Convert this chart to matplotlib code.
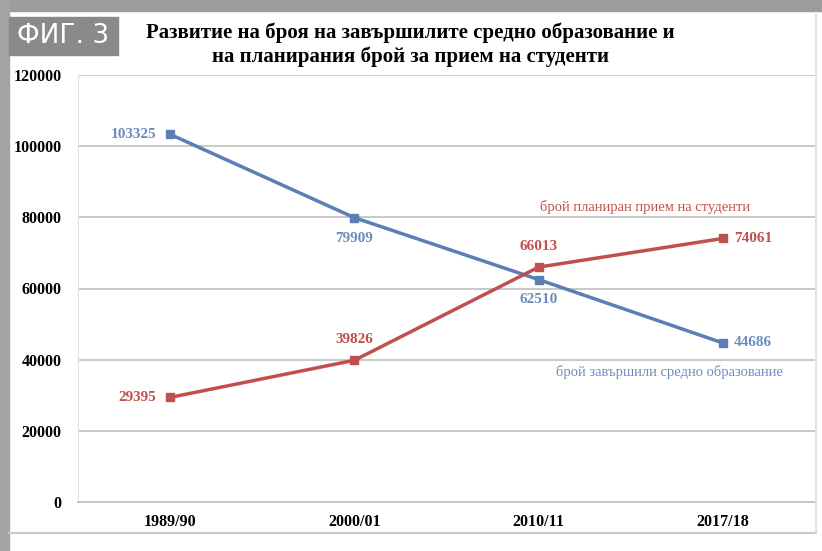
import matplotlib
matplotlib.use('Agg')
import matplotlib.pyplot as plt
from matplotlib.patches import Rectangle
from matplotlib.lines import Line2D

plt.rcParams['font.family'] = ['Liberation Serif', 'DejaVu Serif']

years = ['1989/90', '2000/01', '2010/11', '2017/18']
graduates = [103325, 79909, 62510, 44686]
admission = [29395, 39826, 66013, 74061]
yticks = [0, 20000, 40000, 60000, 80000, 100000, 120000]

blue = '#5b7fb4'
red = '#c0504d'
blue_txt = '#6a8dbd'
red_txt = '#c0504d'

fig = plt.figure(figsize=(8.22, 5.51), dpi=100)
W, H = 822, 551

def px(x, y, w, h):
    # pixel box (top-left origin) -> figure fraction
    return (x / W, 1 - (y + h) / H, w / W, h / H)

# outer gray frame
for box, c in [((0, 0, 822, 11), '#9c9c9c'), ((0, 0, 9, 551), '#a3a3a3')]:
    fig.patches.append(Rectangle(px(*box)[:2], px(*box)[2], px(*box)[3],
                                 transform=fig.transFigure, color=c, zorder=0))
fig.add_artist(Line2D([9 / W, 816 / W], [1 - 533 / H] * 2, color='#c8c8c8', lw=1.5))
fig.add_artist(Line2D([816 / W] * 2, [1 - 533 / H, 1 - 12 / H], color='#dddddd', lw=1.2))

# ФИГ. 3 box
b = px(9, 17, 109, 38)
fig.patches.append(Rectangle(b[:2], b[2], b[3], transform=fig.transFigure,
                             color='#8a8a8a', zorder=1))
fig.text(b[0] + b[2] / 2, b[1] + b[3] / 2, 'ФИГ. 3', color='white', fontsize=19,
         family=['DejaVu Sans'], ha='center', va='center')

fig.text(410 / W, 1 - 33 / H, 'Развитие на броя на завършилите средно образование и',
         fontsize=15, fontweight='bold', ha='center', va='center')
fig.text(410 / W, 1 - 57 / H, 'на планирания брой за прием на студенти',
         fontsize=15, fontweight='bold', ha='center', va='center')

ax = fig.add_axes(px(78, 75, 737, 427))
x = list(range(len(years)))
ax.plot(x, graduates, color=blue, lw=2.5, marker='s', ms=6, zorder=3)
ax.plot(x, admission, color=red, lw=2.5, marker='s', ms=6, zorder=3)

ax.set_xlim(-0.5, 3.5)
ax.set_ylim(0, 120000)
ax.set_yticks(yticks)
ax.set_yticklabels([str(v) for v in yticks], fontsize=11.5, fontweight='bold')
ax.set_xticks(x)
ax.set_xticklabels(years, fontsize=11.5, fontweight='bold')
ax.tick_params(axis='x', length=0, pad=9)
ax.tick_params(axis='y', length=0, pad=12)
ax.grid(axis='y', color='#c4c4c4', lw=1.3)
ax.set_axisbelow(True)
for s in ['top', 'right']:
    ax.spines[s].set_visible(False)
ax.spines['left'].set_color('#e2e2e2')
ax.spines['bottom'].set_color('#c4c4c4')
ax.spines['bottom'].set_linewidth(1.3)

# data labels
offs_g = [(-10, 0, 'right', 'center'), (0, -10, 'center', 'top'),
          (0, -10, 'center', 'top'), (8, 0, 'left', 'center')]
offs_a = [(-10, 0, 'right', 'center'), (0, 10, 'center', 'bottom'),
          (0, 10, 'center', 'bottom'), (8, 0, 'left', 'center')]
for i in x:
    dx, dy, ha, va = offs_g[i]
    ax.annotate(str(graduates[i]), (i, graduates[i]), xytext=(dx, dy),
                textcoords='offset points', ha=ha, va=va, color=blue_txt,
                fontsize=11, fontweight='bold')
    dx, dy, ha, va = offs_a[i]
    ax.annotate(str(admission[i]), (i, admission[i]), xytext=(dx, dy),
                textcoords='offset points', ha=ha, va=va, color=red_txt,
                fontsize=11, fontweight='bold')

ax.text(2.58, 83000, 'брой планиран прием на студенти', color=red_txt,
        fontsize=10.5, ha='center', va='center')
ax.text(2.71, 36500, 'брой завършили средно образование', color=blue_txt,
        fontsize=10.5, ha='center', va='center')

fig.savefig('out.png', dpi=100)
